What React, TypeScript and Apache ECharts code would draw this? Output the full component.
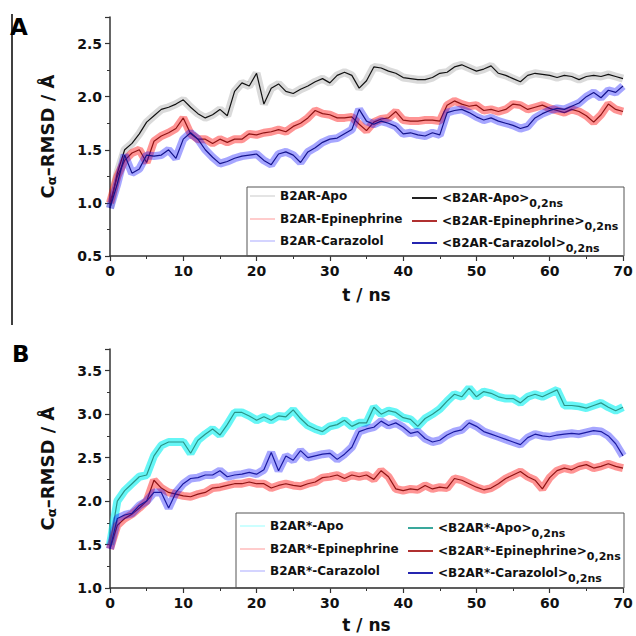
import React, { useEffect, useRef } from "react";
import * as echarts from "echarts";

const timeNs = [
  0, 1, 2, 3, 4, 5, 6, 7, 8, 9, 10, 11, 12, 13, 14, 15, 16, 17, 18, 19, 20,
  21, 22, 23, 24, 25, 26, 27, 28, 29, 30, 31, 32, 33, 34, 35, 36, 37, 38, 39,
  40, 41, 42, 43, 44, 45, 46, 47, 48, 49, 50, 51, 52, 53, 54, 55, 56, 57, 58,
  59, 60, 61, 62, 63, 64, 65, 66, 67, 68, 69, 70,
];

// Panel A
const apoA = [
  0.95, 1.28, 1.5, 1.56, 1.65, 1.76, 1.82, 1.88, 1.9, 1.93,
  1.97, 1.9, 1.84, 1.8, 1.83, 1.88, 1.82, 2.05, 2.13, 2.1,
  2.22, 1.93, 2.08, 2.12, 2.05, 2.03, 2.07, 2.1, 2.14, 2.17,
  2.13, 2.2, 2.23, 2.2, 2.08, 2.15, 2.28, 2.27, 2.24, 2.22,
  2.18, 2.17, 2.16, 2.16, 2.18, 2.22, 2.23, 2.28, 2.3, 2.27,
  2.24, 2.26, 2.29, 2.22, 2.2, 2.17, 2.14, 2.2, 2.22, 2.21,
  2.2, 2.18, 2.2, 2.19, 2.16, 2.19, 2.2, 2.19, 2.21, 2.19,
  2.17,
];
const epiA = [
  1.0, 1.25, 1.4, 1.47, 1.5, 1.38, 1.58, 1.63, 1.66, 1.7,
  1.8, 1.65, 1.6, 1.6, 1.56, 1.6, 1.57, 1.6, 1.6, 1.65,
  1.64, 1.66, 1.67, 1.69, 1.67, 1.72, 1.75, 1.8, 1.87, 1.84,
  1.83, 1.8, 1.8, 1.81, 1.74, 1.68, 1.76, 1.79, 1.8, 1.86,
  1.78, 1.77, 1.77, 1.78, 1.78, 1.77, 1.92, 1.96, 1.93, 1.91,
  1.92, 1.87, 1.88, 1.86, 1.88, 1.93, 1.92, 1.88, 1.9, 1.92,
  1.89, 1.87, 1.85, 1.88, 1.86, 1.82, 1.76, 1.83, 1.93, 1.88,
  1.86,
];
const carA = [
  0.95, 1.18, 1.45, 1.28, 1.32, 1.45, 1.44, 1.45, 1.5, 1.42,
  1.6, 1.66, 1.6, 1.5, 1.43, 1.37, 1.39, 1.42, 1.44, 1.45,
  1.46, 1.4, 1.36, 1.46, 1.48, 1.45, 1.38, 1.48, 1.52, 1.57,
  1.6, 1.61, 1.65, 1.69, 1.88, 1.77, 1.74, 1.77, 1.75, 1.72,
  1.65, 1.66, 1.64, 1.63, 1.66, 1.64, 1.85, 1.87, 1.88, 1.85,
  1.81, 1.78, 1.8, 1.77, 1.75, 1.73, 1.7, 1.72, 1.8, 1.84,
  1.87, 1.89, 1.88, 1.91, 1.94, 2.0, 2.04, 1.99, 2.06, 2.04,
  2.1,
];

// Panel B
const apoB = [
  1.5, 2.0, 2.12, 2.2, 2.28, 2.3, 2.52, 2.64, 2.68, 2.68,
  2.68, 2.55, 2.7, 2.77, 2.83, 2.76, 2.88, 3.02, 3.02, 2.98,
  2.93, 2.97, 2.93, 2.98, 2.97, 3.05, 2.95, 2.87, 2.83, 2.8,
  2.86, 2.88, 2.93, 2.86, 2.9, 2.9, 3.08, 3.0, 3.04, 3.02,
  2.96, 2.94, 2.86, 2.95, 3.0, 3.06, 3.15, 3.23, 3.2, 3.3,
  3.2, 3.26, 3.24, 3.2, 3.18, 3.18, 3.13, 3.2, 3.23, 3.2,
  3.24, 3.28, 3.1, 3.1, 3.09, 3.07, 3.1, 3.13, 3.08, 3.04,
  3.08,
];
const epiB = [
  1.45, 1.72, 1.8, 1.85, 1.92, 2.0, 2.24, 2.15, 2.1, 2.08,
  2.06, 2.05, 2.08, 2.1, 2.15, 2.16, 2.18, 2.2, 2.2, 2.22,
  2.2, 2.2, 2.15, 2.18, 2.2, 2.18, 2.17, 2.2, 2.22, 2.27,
  2.28, 2.3, 2.26, 2.3, 2.28, 2.3, 2.25, 2.35, 2.28, 2.14,
  2.12, 2.14, 2.13, 2.18, 2.14, 2.16, 2.15, 2.26, 2.24, 2.2,
  2.16, 2.13, 2.15, 2.2, 2.26, 2.3, 2.34, 2.28, 2.24, 2.14,
  2.27, 2.35, 2.38, 2.36, 2.4, 2.42, 2.38, 2.4, 2.43, 2.4,
  2.38,
];
const carB = [
  1.45, 1.8, 1.84, 1.86, 1.95, 2.0, 2.1, 2.1, 1.92, 2.1,
  2.2, 2.26, 2.27, 2.3, 2.3, 2.35, 2.28, 2.3, 2.31, 2.33,
  2.31, 2.36, 2.56, 2.35, 2.52, 2.47, 2.58, 2.5, 2.52, 2.54,
  2.55, 2.48, 2.54, 2.62, 2.8, 2.83, 2.85, 2.92, 2.87, 2.9,
  2.85, 2.78, 2.8, 2.72, 2.68, 2.7, 2.76, 2.8, 2.82, 2.9,
  2.86, 2.8, 2.77, 2.74, 2.71, 2.68, 2.65, 2.73, 2.77, 2.75,
  2.74, 2.76, 2.77, 2.78, 2.77, 2.79, 2.81, 2.8, 2.75, 2.66,
  2.52,
];

const rawNamesA = ["B2AR-Apo", "B2AR-Epinephrine", "B2AR-Carazolol"];
const avgNamesA = ["<B2AR-Apo>0,2ns", "<B2AR-Epinephrine>0,2ns", "<B2AR-Carazolol>0,2ns"];
const rawNamesB = ["B2AR*-Apo", "B2AR*-Epinephrine", "B2AR*-Carazolol"];
const avgNamesB = ["<B2AR*-Apo>0,2ns", "<B2AR*-Epinephrine>0,2ns", "<B2AR*-Carazolol>0,2ns"];

const FONT = "DejaVu Sans";

function pairs(vals: number[]) {
  return timeNs.map((t, i) => [t, vals[i]]);
}

export default function App() {
  const ref = useRef<HTMLDivElement>(null);
  useEffect(() => {
    if (!ref.current) return;
    const chart = echarts.init(ref.current, undefined, { renderer: "svg" });

    const rawColA = ["rgba(70,70,70,0.2)", "rgba(255,0,0,0.42)", "rgba(0,0,255,0.35)"];
    const avgColA = ["#111111", "#8e1414", "#14148c"];
    const rawColB = ["rgba(0,240,240,0.6)", "rgba(255,0,0,0.42)", "rgba(0,0,255,0.35)"];
    const avgColB = ["#2b9488", "#8e1414", "#1a1aa0"];
    const legRawA = ["#e4e4e4", "#ffcccc", "#d4d4ff"];
    const legAvgA = ["#222222", "#b03030", "#2525b0"];
    const legRawB = ["#ccffff", "#ffcccc", "#d4d4ff"];
    const legAvgB = ["#3aa89c", "#b03030", "#2525b0"];

    const dataA = [apoA, epiA, carA];
    const dataB = [apoB, epiB, carB];

    const series: any[] = [];
    for (let k = 0; k < 3; k++) {
      series.push({
        name: rawNamesA[k], type: "line", xAxisIndex: 0, yAxisIndex: 0,
        data: pairs(dataA[k]), symbol: "none", silent: true,
        lineStyle: { color: rawColA[k], width: 8 }, itemStyle: { color: rawColA[k] },
      });
      series.push({
        name: avgNamesA[k], type: "line", xAxisIndex: 0, yAxisIndex: 0,
        data: pairs(dataA[k]), symbol: "none", silent: true,
        lineStyle: { color: avgColA[k], width: 1.2 }, itemStyle: { color: avgColA[k] },
      });
    }
    for (let k = 0; k < 3; k++) {
      series.push({
        name: rawNamesB[k], type: "line", xAxisIndex: 1, yAxisIndex: 1,
        data: pairs(dataB[k]), symbol: "none", silent: true,
        lineStyle: { color: rawColB[k], width: 8 }, itemStyle: { color: rawColB[k] },
      });
      series.push({
        name: avgNamesB[k], type: "line", xAxisIndex: 1, yAxisIndex: 1,
        data: pairs(dataB[k]), symbol: "none", silent: true,
        lineStyle: { color: avgColB[k], width: 1.2 }, itemStyle: { color: avgColB[k] },
      });
    }

    const legendText = {
      fontFamily: FONT,
      fontWeight: "bold",
      fontSize: 12,
      color: "#111",
      rich: {
        m: { fontFamily: FONT, fontWeight: "bold", fontSize: 12, color: "#111", lineHeight: 22 },
        s: { fontFamily: FONT, fontWeight: "bold", fontSize: 11, color: "#111", lineHeight: 10, verticalAlign: "bottom" },
      },
    };
    const fmt = (name: string) => {
      const i = name.indexOf(">");
      if (i < 0) return name;
      return `{m|${name.slice(0, i + 1)}}{s|${name.slice(i + 1)}}`;
    };
    const legends: any[] = [];
    const addCol = (names: string[], cols: string[], left: number, centers: number[], isAvg: boolean) => {
      names.forEach((n, i) => {
        legends.push({
          data: [{ name: n, itemStyle: { color: cols[i] } }],
          orient: "vertical", left, top: centers[i] - (isAvg ? 5 : 7), padding: 0, itemGap: 0,
          itemWidth: 25, itemHeight: 2, icon: "rect", selectedMode: false,
          formatter: fmt, textStyle: legendText,
        });
      });
    };
    addCol(rawNamesA, legRawA, 250, [197, 220, 242], false);
    addCol(avgNamesA, legAvgA, 412, [197, 220, 242], true);
    addCol(rawNamesB, legRawB, 240, [527, 550, 572], false);
    addCol(avgNamesB, legAvgB, 408, [527, 550, 572], true);

    const axisLine = { show: true, lineStyle: { color: "#333", width: 1.5 } };
    const axisLabel = { fontFamily: FONT, fontWeight: "bold", fontSize: 14, color: "#111", margin: 8 };
    const mkX = (grid: number, gap: number) => ({
      type: "value", gridIndex: grid, min: 0, max: 70, interval: 10,
      axisLine, axisTick: { show: true, length: 5, lineStyle: { color: "#333", width: 1.2 } },
      minorTick: { show: true, splitNumber: 2, length: 3, lineStyle: { color: "#333", width: 1 } },
      splitLine: { show: false }, axisLabel,
      name: "t / ns", nameLocation: "middle", nameGap: gap,
      nameTextStyle: { fontFamily: FONT, fontWeight: "bold", fontSize: 17, color: "#111" },
    });
    const mkY = (grid: number, min: number, max: number) => ({
      type: "value", gridIndex: grid, min, max, interval: 0.5,
      axisLine, axisTick: { show: true, length: 5, lineStyle: { color: "#333", width: 1.2 } },
      minorTick: { show: true, splitNumber: 2, length: 3, lineStyle: { color: "#333", width: 1 } },
      splitLine: { show: false },
      axisLabel: { ...axisLabel, showMaxLabel: false, formatter: (v: number) => v.toFixed(1) },
      name: "{a|C}{s|α}{a|–RMSD / Å}", nameLocation: "middle", nameGap: 52,
      nameTextStyle: {
        fontFamily: FONT, fontWeight: "bold", fontSize: 18, color: "#111",
        rich: {
          a: { fontFamily: FONT, fontWeight: "bold", fontSize: 18, color: "#111", lineHeight: 22 },
          s: { fontFamily: FONT, fontWeight: "bold", fontSize: 13, color: "#111", lineHeight: 10, verticalAlign: "bottom" },
        },
      },
    });

    chart.setOption({
      animation: false,
      backgroundColor: "#ffffff",
      grid: [
        { left: 110, right: 13, top: 17, bottom: 380 },
        { left: 110, right: 13, top: 349, bottom: 48 },
      ],
      xAxis: [mkX(0, 30), mkX(1, 28)],
      yAxis: [mkY(0, 0.5, 2.75), mkY(1, 1.0, 3.75)],
      legend: legends,
      graphic: [
        { type: "line", shape: { x1: 12, y1: 14, x2: 12, y2: 325 }, style: { stroke: "#000", lineWidth: 1.5 } },
        { type: "text", left: 10, top: 15, style: { text: "A", fontFamily: FONT, fontWeight: "bold", fontSize: 23, fill: "#000" } },
        { type: "text", left: 12, top: 342, style: { text: "B", fontFamily: FONT, fontWeight: "bold", fontSize: 23, fill: "#000" } },
        { type: "rect", shape: { x: 247, y: 187, width: 377, height: 69 }, style: { fill: "none", stroke: "#555", lineWidth: 1 }, z: 1 },
        { type: "rect", shape: { x: 236, y: 513, width: 388, height: 75 }, style: { fill: "none", stroke: "#555", lineWidth: 1 }, z: 1 },
      ],
      series,
    });
    return () => chart.dispose();
  }, []);
  return (
    <div
      ref={ref}
      style={{ position: "absolute", left: 0, top: 0, width: 636, height: 636, background: "#fff" }}
    />
  );
}
